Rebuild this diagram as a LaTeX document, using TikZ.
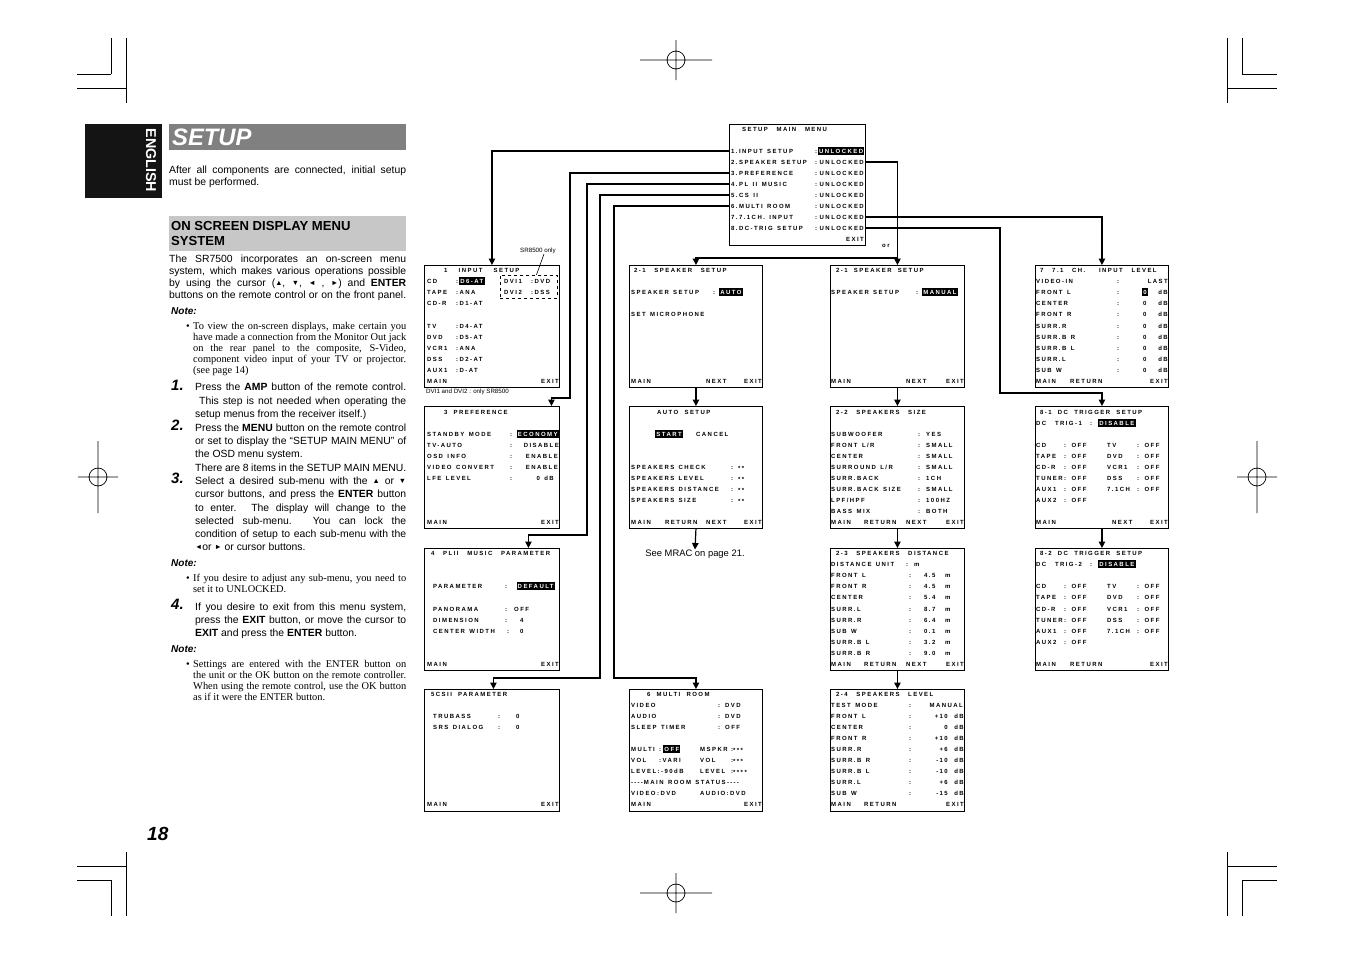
\documentclass[tikz,border=0pt]{standalone}
\usepackage{fontspec}
\setmainfont{Liberation Sans}
\newfontfamily\serf{Liberation Serif}
\newfontfamily\osdfam[LetterSpace=24]{Liberation Sans}
\usetikzlibrary{arrows.meta}
\newcommand\osd{\osdfam\bfseries\fontsize{6}{6}\selectfont\spaceskip=4.4pt\relax}
\newcommand\osdt{\osdfam\bfseries\fontsize{6}{6}\selectfont\spaceskip=6.2pt\relax}
\newcounter{tn}
\newcommand\tx[3][o]{\stepcounter{tn}\node[#1] (n\arabic{tn}) at (#2) {#3};}
\newcommand\jline[4]{\stepcounter{tn}\node[anchor=base west,inner sep=0,#1] (n\arabic{tn}) at (#2) {\makebox[#3][s]{#4}};}
\newcommand\nline[3]{\stepcounter{tn}\node[anchor=base west,inner sep=0,#1] (n\arabic{tn}) at (#2) {#3};}
\newcommand\tri[1]{\raisebox{0.5pt}{\scalebox{0.7}{#1}}}
\newcommand\lowast{\raisebox{-1.2pt}}
\newcommand\hy{-\kern1.2pt}
\newcommand\ts{\hspace*{2.5pt}}
\begin{document}
\begin{tikzpicture}[x=1pt,y=-1pt,
  box/.style={draw,line width=0.9pt,anchor=north west,inner sep=0,minimum height=122pt},
  o/.style={font=\osd,inner sep=0,text height=4.3pt,text depth=0pt,anchor=west},
  ot/.style={o,font=\osdt},
  or/.style={o,anchor=east},
  hl/.style={o,fill=black,text=white,inner xsep=1.2pt,inner ysep=1.4pt},
  con/.style={line width=1.2pt},
  arr/.style={con,-{Triangle[length=6.5pt,width=6.5pt]}},
  crop/.style={line width=0.7pt},
  pf/.style={font=\fontsize{10.4}{11}\selectfont},
  sf/.style={font=\serf\fontsize{10.4}{11}\selectfont},
  numf/.style={font=\bfseries\itshape\fontsize{15}{15}\selectfont},
  notef/.style={font=\bfseries\itshape\fontsize{10}{11}\selectfont},
  small/.style={font=\fontsize{6.2}{6.5}\selectfont,inner sep=0}]
\useasboundingbox (0,0) rectangle (1353,954);
% ---------- crop and registration marks
\draw[crop] (111,38)--(111,74) (126,38)--(126,103) (77,74)--(111,74) (77,88)--(126,88);
\draw[crop] (1242,38)--(1242,74) (1227,38)--(1227,103) (1242,74)--(1277,74) (1227,88)--(1277,88);
\draw[crop] (111,880)--(111,916) (126,852)--(126,916) (77,880)--(111,880) (77,866)--(126,866);
\draw[crop] (1242,880)--(1242,916) (1227,852)--(1227,916) (1242,880)--(1277,880) (1227,866)--(1277,866);
\draw[crop] (676,60) circle (9) (640,60)--(712,60) (676,40)--(676,80);
\draw[crop] (676,893) circle (9) (640,893)--(712,893) (676,873)--(676,913);
\draw[crop] (98,477) circle (9) (78,477)--(118,477) (98,441)--(98,513);
\draw[crop] (1257,477) circle (9) (1237,477)--(1277,477) (1257,441)--(1257,513);
% ---------- left column
\node[fill=black!92,minimum width=77,minimum height=74,anchor=north west,inner sep=0] (eng) at (85,124) {};
\node[rotate=-90,text=white,font=\bfseries\fontsize{14.3}{14.3}\selectfont,inner sep=0] (engt) at (151,160.5) {ENGLISH};
\node[fill=black!50,minimum width=237,minimum height=26,anchor=north west,inner sep=0] (setbar) at (169,124) {};
\node[anchor=west,text=white,font=\bfseries\itshape\fontsize{23.8}{24}\selectfont,inner sep=0] (setupt) at (172,137) {SETUP};
\jline{pf}{169,173}{237pt}{After all components are connected, initial setup}
\nline{pf}{169,185}{must be performed.}
\node[fill=black!22,anchor=north west,minimum width=237,minimum height=35,inner sep=0] (osdh) at (169,216) {};
\nline{font=\bfseries\fontsize{13.1}{13}\selectfont}{171,230.5}{ON SCREEN DISPLAY MENU}
\nline{font=\bfseries\fontsize{13.1}{13}\selectfont}{171,245}{SYSTEM}
\jline{pf}{169,262}{237pt}{The SR7500 incorporates an on-screen menu}
\jline{pf}{169,274}{237pt}{system, which makes various operations possible}
\jline{pf}{169,286}{237pt}{by using the cursor (\tri{▲}, \tri{▼}, \tri{◄} , \tri{►}) and \textbf{ENTER}}
\jline{pf}{169,298}{237pt}{buttons on the remote control or on the front panel.}
\nline{notef}{171,314}{Note:}
\nline{sf}{186,329.5}{•}
\jline{sf}{193,329.5}{213pt}{To view the on-screen displays, make certain you}
\jline{sf}{193,340.5}{213pt}{have made a connection from the Monitor Out jack}
\jline{sf}{193,351.5}{213pt}{on the rear panel to the composite, S-Video,}
\jline{sf}{193,362.5}{213pt}{component video input of your TV or projector.}
\nline{sf}{193,373.5}{(see page 14)}
\nline{numf}{171,390.5}{1.}
\jline{pf}{195,390}{211pt}{Press the \textbf{AMP} button of the remote control.}
\jline{pf}{199,404}{207pt}{This step is not needed when operating the}
\nline{pf}{195,417}{setup menus from the receiver itself.)}
\nline{numf}{171,430}{2.}
\jline{pf}{195,431}{211pt}{Press the \textbf{MENU} button on the remote control}
\jline{pf}{195,444}{211pt}{or set to display the “SETUP MAIN MENU” of}
\nline{pf}{195,457}{the OSD menu system.}
\jline{pf}{195,471}{211pt}{There are 8 items in the SETUP MAIN MENU.}
\nline{numf}{171,483}{3.}
\jline{pf}{195,484}{211pt}{Select a desired sub-menu with the \tri{▲} or \tri{▼}}
\jline{pf}{195,497}{211pt}{cursor buttons, and press the \textbf{ENTER} button}
\jline{pf}{195,511}{211pt}{to enter. The display will change to the}
\jline{pf}{195,524}{211pt}{selected sub-menu. You can lock the}
\jline{pf}{195,537}{211pt}{condition of setup to each sub-menu with the}
\nline{pf}{195,550}{\tri{◄}or \tri{►} or cursor buttons.}
\nline{notef}{171,566}{Note:}
\nline{sf}{186,581.5}{•}
\jline{sf}{193,581.5}{213pt}{If you desire to adjust any sub-menu, you need to}
\nline{sf}{193,592.5}{set it to UNLOCKED.}
\nline{numf}{171,609}{4.}
\jline{pf}{195,610}{211pt}{If you desire to exit from this menu system,}
\jline{pf}{195,623}{211pt}{press the \textbf{EXIT} button, or move the cursor to}
\nline{pf}{195,636}{\textbf{EXIT} and press the \textbf{ENTER} button.}
\nline{notef}{171,652}{Note:}
\nline{sf}{186,667.5}{•}
\jline{sf}{193,667.5}{213pt}{Settings are entered with the ENTER button on}
\jline{sf}{193,678.5}{213pt}{the unit or the OK button on the remote controller.}
\jline{sf}{193,689.5}{213pt}{When using the remote control, use the OK button}
\nline{sf}{193,700.5}{as if it were the ENTER button.}
\nline{font=\bfseries\itshape\fontsize{19}{19}\selectfont}{147,840}{18}
% ---------- main menu
\node[box,minimum width=136,minimum height=121] (mm) at (729,124) {};
\tx[ot]{742,129}{SETUP \ts MAIN \ts MENU}
\tx{731,151}{1.INPUT SETUP}\tx{815,151}{:}\tx[hl,anchor=east]{864.5,151}{UNLOCKED}
\tx{731,162}{2.SPEAKER SETUP}\tx{815,162}{:}\tx[or]{864,162}{UNLOCKED}
\tx{731,173}{3.PREFERENCE}\tx{815,173}{:}\tx[or]{864,173}{UNLOCKED}
\tx{731,184}{4.PL II MUSIC}\tx{815,184}{:}\tx[or]{864,184}{UNLOCKED}
\tx{731,195}{5.CS II}\tx{815,195}{:}\tx[or]{864,195}{UNLOCKED}
\tx{731,206}{6.MULTI ROOM}\tx{815,206}{:}\tx[or]{864,206}{UNLOCKED}
\tx{731,217}{7.7.1CH. INPUT}\tx{815,217}{:}\tx[or]{864,217}{UNLOCKED}
\tx{731,228}{8.DC-TRIG SETUP}\tx{815,228}{:}\tx[or]{864,228}{UNLOCKED}
\tx[or]{864,239}{EXIT}
\tx{882,245}{or}
% ---------- column 1
\node[box,minimum width=135] (b1) at (424,265) {};
\tx[ot]{444,270}{1 \ts\ts INPUT \ts\ts SETUP}
\tx{427,281}{CD}\tx{456,281}{:}\tx[hl]{459,281}{D6-AT}
\tx{427,292}{TAPE}\tx{456,292}{:ANA}
\tx{427,303}{CD-R}\tx{456,303}{:D1-AT}
\tx{427,326}{TV}\tx{456,326}{:D4-AT}
\tx{427,337}{DVD}\tx{456,337}{:D5-AT}
\tx{427,348}{VCR1}\tx{456,348}{:ANA}
\tx{427,359}{DSS}\tx{456,359}{:D2-AT}
\tx{427,370}{AUX1}\tx{456,370}{:D-AT}
\tx{427,381}{MAIN}\tx[or]{559,381}{EXIT}
\node[draw,dashed,line width=0.8pt,anchor=north west,minimum width=57,minimum height=23,inner sep=0] (dvi) at (500,275) {};
\tx{504,281}{DVI1}\tx{531,281}{:DVD}
\tx{504,292}{DVI2}\tx{531,292}{:DSS}
\node[small,anchor=west] (sr) at (520,251) {SR8500 only};
\draw[line width=0.6pt] ([xshift=6]sr.south) -- ([xshift=7.5]dvi.north);
\node[small,anchor=west] (dvin) at (426,392) {DVI1 and DVI2 : only SR8500};
\node[box,minimum width=135] (b3) at (424,406) {};
\tx[ot]{444,412}{3 PREFERENCE}
\tx{427,434}{STANDBY MODE}\tx{510,434}{:}\tx[hl,anchor=east]{559,434}{ECONOMY}
\tx{427,445}{TV-AUTO}\tx{510,445}{:}\tx[or]{559,445}{DISABLE}
\tx{427,456}{OSD INFO}\tx{510,456}{:}\tx[or]{558,456}{ENABLE}
\tx{427,467}{VIDEO CONVERT}\tx{510,467}{:}\tx[or]{558,467}{ENABLE}
\tx{427,478}{LFE LEVEL}\tx{510,478}{:}\tx[or]{554,478}{0 dB}
\tx{427,522}{MAIN}\tx[or]{559,522}{EXIT}
\node[box,minimum width=135] (b4) at (424,548) {};
\tx[ot]{431,553}{4 \ts PLII \ts MUSIC \ts PARAMETER}
\tx{433,586}{PARAMETER}\tx{505,586}{:}\tx[hl,anchor=east]{555,586}{DEFAULT}
\tx{433,609}{PANORAMA}\tx{505,609}{:}\tx{514,609}{OFF}
\tx{433,620}{DIMENSION}\tx{505,620}{:}\tx{520,620}{4}
\tx{433,631}{CENTER WIDTH}\tx{507,631}{:}\tx{520,631}{0}
\tx{427,664}{MAIN}\tx[or]{559,664}{EXIT}
\node[box,minimum width=135] (b5) at (424,689) {};
\tx[ot]{431,694}{5CSII PARAMETER}
\tx{433,716}{TRUBASS}\tx{498,716}{:}\tx{516,716}{0}
\tx{433,727}{SRS DIALOG}\tx{498,727}{:}\tx{516,727}{0}
\tx{427,804}{MAIN}\tx[or]{559,804}{EXIT}
% ---------- column 2
\node[box,minimum width=133] (a21) at (629,265) {};
\tx[ot]{634,270}{2-1 \ts SPEAKER \ts SETUP}
\tx{631,292}{SPEAKER SETUP}\tx{713,292}{:}\tx[hl]{719,292}{AUTO}
\tx{631,314}{SET MICROPHONE}
\tx{631,381}{MAIN}\tx{706,381}{NEXT}\tx[or]{762,381}{EXIT}
\node[box,minimum width=133] (as) at (629,406) {};
\tx[ot]{657,412}{AUTO SETUP}
\tx[hl]{655,434}{START}\tx{696,434}{CANCEL}
\tx{631,467}{SPEAKERS CHECK}\tx{731,467}{:}\tx{738,467}{\lowast{**}}
\tx{631,478}{SPEAKERS LEVEL}\tx{731,478}{:}\tx{738,478}{\lowast{**}}
\tx{631,489}{SPEAKERS DISTANCE}\tx{731,489}{:}\tx{738,489}{\lowast{**}}
\tx{631,500}{SPEAKERS SIZE}\tx{731,500}{:}\tx{738,500}{\lowast{**}}
\tx{631,522}{MAIN}\tx{665,522}{RETURN}\tx{706,522}{NEXT}\tx[or]{762,522}{EXIT}
\node[font=\fontsize{9.4}{10}\selectfont,inner sep=0] (mrac) at (695,554) {See MRAC on page 21.};
\node[box,minimum width=133] (mr) at (629,689) {};
\tx[ot]{647,694}{6 MULTI ROOM}
\tx{631,705}{VIDEO}\tx{718,705}{:}\tx{725,705}{DVD}
\tx{631,716}{AUDIO}\tx{718,716}{:}\tx{725,716}{DVD}
\tx{631,727}{SLEEP TIMER}\tx{718,727}{:}\tx{725,727}{OFF}
\tx{631,749}{MULTI}\tx{659,749}{:}\tx[hl]{663,749}{OFF}\tx{700,749}{MSPKR}\tx{731,749}{:\lowast{***}}
\tx{631,760}{VOL}\tx{659,760}{:VARI}\tx{700,760}{VOL}\tx{731,760}{:\lowast{***}}
\tx{631,771}{LEVEL:-90dB}\tx{700,771}{LEVEL}\tx{731,771}{:\lowast{****}}
\tx{631,782}{\hy\hy\hy\hy MAIN ROOM STATUS\hy\hy\hy\hy}
\tx{631,793}{VIDEO:DVD}\tx{700,793}{AUDIO:DVD}
\tx{631,804}{MAIN}\tx[or]{762,804}{EXIT}
% ---------- column 3
\node[box,minimum width=134] (m21) at (830,265) {};
\tx[ot]{836,270}{2-1 SPEAKER SETUP}
\tx{831,292}{SPEAKER SETUP}\tx{916,292}{:}\tx[hl]{922,292}{MANUAL}
\tx{831,381}{MAIN}\tx{906,381}{NEXT}\tx[or]{964,381}{EXIT}
\node[box,minimum width=134] (s22) at (830,406) {};
\tx[ot]{836,412}{2-2 \ts SPEAKERS \ts SIZE}
\tx{831,434}{SUBWOOFER}\tx{918,434}{:}\tx{926,434}{YES}
\tx{831,445}{FRONT L/R}\tx{918,445}{:}\tx{926,445}{SMALL}
\tx{831,456}{CENTER}\tx{918,456}{:}\tx{926,456}{SMALL}
\tx{831,467}{SURROUND L/R}\tx{918,467}{:}\tx{926,467}{SMALL}
\tx{831,478}{SURR.BACK}\tx{918,478}{:}\tx{926,478}{1CH}
\tx{831,489}{SURR.BACK SIZE}\tx{918,489}{:}\tx{926,489}{SMALL}
\tx{831,500}{LPF/HPF}\tx{918,500}{:}\tx{926,500}{100HZ}
\tx{831,511}{BASS MIX}\tx{918,511}{:}\tx{926,511}{BOTH}
\tx{831,522}{MAIN}\tx{864,522}{RETURN}\tx{906,522}{NEXT}\tx[or]{964,522}{EXIT}
\node[box,minimum width=134] (s23) at (830,548) {};
\tx[ot]{836,553}{2-3 \ts SPEAKERS \ts DISTANCE}
\tx{831,564}{DISTANCE UNIT}\tx{906,564}{:}\tx{914,564}{m}
\tx{831,575}{FRONT L}\tx{909,575}{:}\tx{924,575}{4.5}\tx{945,575}{m}
\tx{831,586}{FRONT R}\tx{909,586}{:}\tx{924,586}{4.5}\tx{945,586}{m}
\tx{831,597}{CENTER}\tx{909,597}{:}\tx{924,597}{5.4}\tx{945,597}{m}
\tx{831,609}{SURR.L}\tx{909,609}{:}\tx{924,609}{8.7}\tx{945,609}{m}
\tx{831,620}{SURR.R}\tx{909,620}{:}\tx{924,620}{6.4}\tx{945,620}{m}
\tx{831,631}{SUB W}\tx{909,631}{:}\tx{924,631}{0.1}\tx{945,631}{m}
\tx{831,642}{SURR.B L}\tx{909,642}{:}\tx{924,642}{3.2}\tx{945,642}{m}
\tx{831,653}{SURR.B R}\tx{909,653}{:}\tx{924,653}{9.0}\tx{945,653}{m}
\tx{831,664}{MAIN}\tx{864,664}{RETURN}\tx{906,664}{NEXT}\tx[or]{964,664}{EXIT}
\node[box,minimum width=134] (s24) at (830,689) {};
\tx[ot]{836,694}{2-4 \ts SPEAKERS \ts LEVEL}
\tx{831,705}{TEST MODE}\tx{909,705}{:}\tx[or]{963,705}{MANUAL}
\tx{831,716}{FRONT L}\tx{909,716}{:}\tx[or]{948,716}{+10}\tx[or]{964,716}{dB}
\tx{831,727}{CENTER}\tx{909,727}{:}\tx[or]{948,727}{0}\tx[or]{964,727}{dB}
\tx{831,738}{FRONT R}\tx{909,738}{:}\tx[or]{948,738}{+10}\tx[or]{964,738}{dB}
\tx{831,749}{SURR.R}\tx{909,749}{:}\tx[or]{948,749}{+6}\tx[or]{964,749}{dB}
\tx{831,760}{SURR.B R}\tx{909,760}{:}\tx[or]{948,760}{-10}\tx[or]{964,760}{dB}
\tx{831,771}{SURR.B L}\tx{909,771}{:}\tx[or]{948,771}{-10}\tx[or]{964,771}{dB}
\tx{831,782}{SURR.L}\tx{909,782}{:}\tx[or]{948,782}{+6}\tx[or]{964,782}{dB}
\tx{831,793}{SUB W}\tx{909,793}{:}\tx[or]{948,793}{-15}\tx[or]{964,793}{dB}
\tx{831,804}{MAIN}\tx{864,804}{RETURN}\tx[or]{964,804}{EXIT}
% ---------- column 4
\node[box,minimum width=133] (c7) at (1035,265) {};
\tx[ot]{1040,270}{7 \ts 7.1 \ts CH. \ts\ts\ts INPUT \ts LEVEL}
\tx{1036,281}{VIDEO-IN}\tx{1117,281}{:}\tx[or]{1168,281}{LAST}
\tx{1036,292}{FRONT L}\tx{1117,292}{:}\tx[hl]{1142,292}{0}\tx[or]{1168,292}{dB}
\tx{1036,303}{CENTER}\tx{1117,303}{:}\tx{1143,303}{0}\tx[or]{1168,303}{dB}
\tx{1036,314}{FRONT R}\tx{1117,314}{:}\tx{1143,314}{0}\tx[or]{1168,314}{dB}
\tx{1036,326}{SURR.R}\tx{1117,326}{:}\tx{1143,326}{0}\tx[or]{1168,326}{dB}
\tx{1036,337}{SURR.B R}\tx{1117,337}{:}\tx{1143,337}{0}\tx[or]{1168,337}{dB}
\tx{1036,348}{SURR.B L}\tx{1117,348}{:}\tx{1143,348}{0}\tx[or]{1168,348}{dB}
\tx{1036,359}{SURR.L}\tx{1117,359}{:}\tx{1143,359}{0}\tx[or]{1168,359}{dB}
\tx{1036,370}{SUB W}\tx{1117,370}{:}\tx{1143,370}{0}\tx[or]{1168,370}{dB}
\tx{1036,381}{MAIN}\tx{1070,381}{RETURN}\tx[or]{1168,381}{EXIT}
\node[box,minimum width=133] (t81) at (1035,406) {};
\tx[ot]{1040,412}{8-1 DC TRIGGER SETUP}
\tx[ot]{1036,423}{DC \ts TRIG-1}\tx{1090,423}{:}\tx[hl]{1098,423}{DISABLE}
\tx{1036,445}{CD}\tx{1064,445}{: OFF}\tx{1107,445}{TV}\tx{1137,445}{: OFF}
\tx{1036,456}{TAPE}\tx{1064,456}{: OFF}\tx{1107,456}{DVD}\tx{1137,456}{: OFF}
\tx{1036,467}{CD-R}\tx{1064,467}{: OFF}\tx{1107,467}{VCR1}\tx{1137,467}{: OFF}
\tx{1036,478}{TUNER}\tx{1064,478}{: OFF}\tx{1107,478}{DSS}\tx{1137,478}{: OFF}
\tx{1036,489}{AUX1}\tx{1064,489}{: OFF}\tx{1107,489}{7.1CH}\tx{1137,489}{: OFF}
\tx{1036,500}{AUX2}\tx{1064,500}{: OFF}
\tx{1036,522}{MAIN}\tx{1112,522}{NEXT}\tx[or]{1168,522}{EXIT}
\node[box,minimum width=133] (t82) at (1035,548) {};
\tx[ot]{1040,553}{8-2 DC TRIGGER SETUP}
\tx[ot]{1036,564}{DC \ts TRIG-2}\tx{1090,564}{:}\tx[hl]{1098,564}{DISABLE}
\tx{1036,586}{CD}\tx{1064,586}{: OFF}\tx{1107,586}{TV}\tx{1137,586}{: OFF}
\tx{1036,597}{TAPE}\tx{1064,597}{: OFF}\tx{1107,597}{DVD}\tx{1137,597}{: OFF}
\tx{1036,609}{CD-R}\tx{1064,609}{: OFF}\tx{1107,609}{VCR1}\tx{1137,609}{: OFF}
\tx{1036,620}{TUNER}\tx{1064,620}{: OFF}\tx{1107,620}{DSS}\tx{1137,620}{: OFF}
\tx{1036,631}{AUX1}\tx{1064,631}{: OFF}\tx{1107,631}{7.1CH}\tx{1137,631}{: OFF}
\tx{1036,642}{AUX2}\tx{1064,642}{: OFF}
\tx{1036,664}{MAIN}\tx{1070,664}{RETURN}\tx[or]{1168,664}{EXIT}
% ---------- connectors
\coordinate (r1) at (729,151);
\coordinate (r2) at (865,162);
\coordinate (r3) at (729,173);
\coordinate (r4) at (729,184);
\coordinate (r5) at (729,195);
\coordinate (r6) at (729,206);
\coordinate (r7) at (865,217);
\coordinate (r8) at (865,228);
\coordinate (br) at (897,258);
\draw[arr] (r1) -| (b1.north);
\draw[arr] (r3) -| (570,398) -| ([xshift=59.5]b3.north);
\draw[arr] (r4) -| (587,535) -| ([xshift=36.5]b4.north);
\draw[arr] (r5) -| (600,678) -| ([xshift=1.5]b5.north);
\draw[arr] (r6) -| (614,678) -| (mr.north);
\draw[arr] (r2) -| (m21.north);
\draw[arr] (br) -| (a21.north);
\draw[arr] (r7) -| (c7.north);
\draw[arr] (r8) -| (1000,393) -| (t81.north);
\draw[arr] (a21.south) -- (as.north);
\draw[arr] (as.south) -- (mrac.north);
\draw[arr] (m21.south) -- (s22.north);
\draw[arr] (s22.south) -- (s23.north);
\draw[arr] (s23.south) -- (s24.north);
\draw[arr] (t81.south) -- (t82.north);
\end{tikzpicture}
\end{document}
